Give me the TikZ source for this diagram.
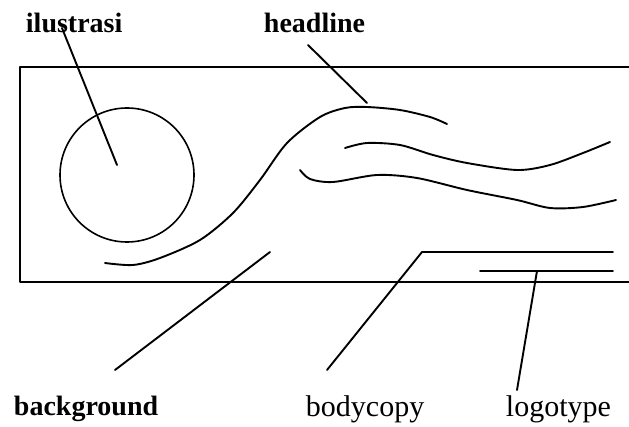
\documentclass[tikz,border=0pt]{standalone}
\usepackage{fontspec}
\setmainfont{Liberation Serif}
\tikzset{
  lblbold/.style={font=\fontsize{28}{30}\selectfont\bfseries, anchor=base west, inner sep=0pt},
  lblplain/.style={font=\fontsize{30}{32}\selectfont, anchor=base west, inner sep=0pt},
}
\begin{document}
\begin{tikzpicture}[x=1pt,y=-1pt,line width=1.9pt,line cap=round,line join=round]
        \useasboundingbox (0,0) rectangle (629,427);
        \draw (629,67) -- (20,67) -- (20,282) -- (629,282);
        \draw[line width=1.6pt] (127,175) circle[radius=67pt];

        \draw plot[smooth] coordinates {(105,263) (133,265) (160,258) (200,240) (233,213) (260,180) (287,143) (320,117) (345,108) (367,107) (400,110) (430,117) (447,124)};
        \draw plot[smooth] coordinates {(345,148) (367,143) (400,145) (433,155) (467,163) (517,170) (550,165) (583,153) (610,142)};
        \draw plot[smooth] coordinates {(300,170) (310,179) (333,182) (377,175) (417,178) (467,190) (517,200) (550,208) (583,207) (616,200)};
        \draw (480,271) -- (613,271);

        \node[lblbold] (ilus) at (25,33) {ilustrasi};
        \node[lblbold] (head) at (263,33) {headline};
        \node[lblbold] (back) at (13,415) {background};
        \node[lblplain] (body) at (305,416) {bodycopy};
        \node[lblplain] (logo) at (505,416) {logotype};

        \coordinate (ilustip) at (117,165);
        \coordinate (headtip) at (367,103);
        \coordinate (backtip) at (270,252);
        \coordinate (bodybend) at (422,252);
        \coordinate (bodytip) at (613,252);
        \coordinate (logotip) at (537,271);

        \draw (ilus.base west) ++(37,-5) -- (ilustip);
        \draw (head.base west) ++(45,12) -- (headtip);
        \draw (back.base west) ++(102,-45) -- (backtip);
        \draw (body.base west) ++(22,-46) -- (bodybend) -- (bodytip);
        \draw (logo.base west) ++(12,-26) -- (logotip);
    \end{tikzpicture}
\end{document}
